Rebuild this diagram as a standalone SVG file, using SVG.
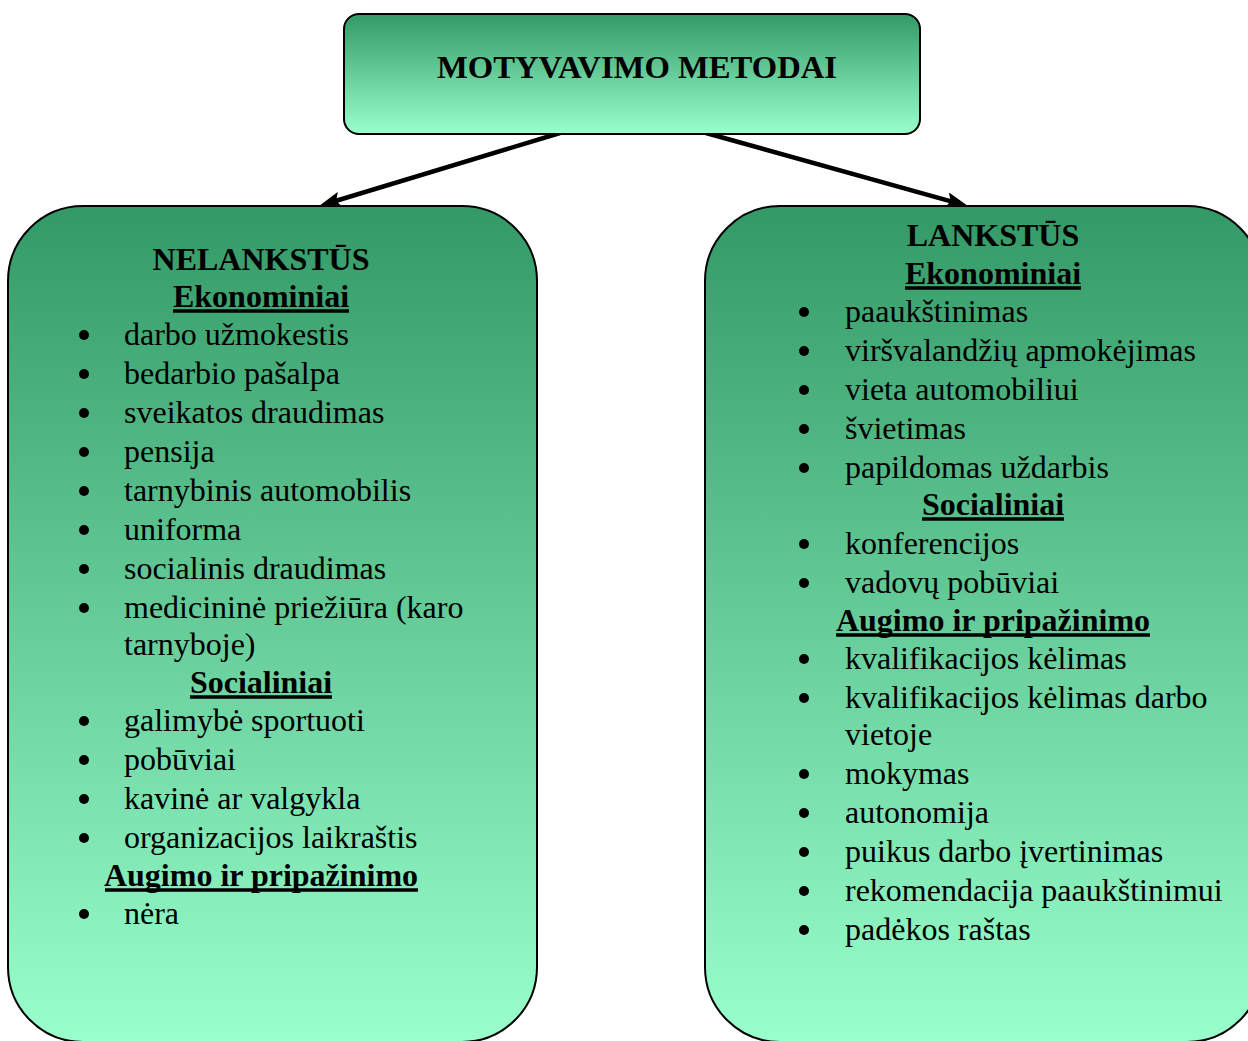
<svg xmlns="http://www.w3.org/2000/svg" width="1248" height="1041" viewBox="0 0 1248 1041">
  <style>
    .box { stroke: #000; stroke-width: 2; }
    .title { font-family: "Liberation Serif", "Times New Roman", serif; font-size: 32px; font-weight: bold; fill: #000; text-anchor: middle; }
    .head { font-family: "Liberation Serif", "Times New Roman", serif; font-size: 32px; font-weight: bold; fill: #000; text-anchor: middle; }
    .sub { font-family: "Liberation Serif", "Times New Roman", serif; font-size: 32px; font-weight: bold; fill: #000; text-anchor: middle; }
    .rule { stroke: #000; stroke-width: 3.5; }
    .item { font-family: "Liberation Serif", "Times New Roman", serif; font-size: 32px; fill: #000; }
    .dot { fill: #000; }
    .conn { stroke: #000; stroke-width: 4.5; fill: none; marker-end: url(#head); }
  </style>
  <defs>
    <linearGradient id="fillTop" x1="0" y1="0" x2="0" y2="1">
      <stop offset="0" stop-color="#339966"/>
      <stop offset="1" stop-color="#99ffcc"/>
    </linearGradient>
    <linearGradient id="fillBig" x1="0" y1="0" x2="0" y2="1">
      <stop offset="0" stop-color="#339966"/>
      <stop offset="1" stop-color="#99ffcc"/>
    </linearGradient>
    <marker id="head" viewBox="0 0 22 16" refX="10" refY="8" markerWidth="22" markerHeight="16" markerUnits="userSpaceOnUse" orient="auto">
      <path d="M0,0 L22,8 L0,16 L4,8 z" fill="#000"/>
    </marker>
  </defs>

  <!-- connectors -->
  <g id="connectors">
    <line class="conn" x1="560" y1="133" x2="330.5" y2="202.5"/>
    <line class="conn" x1="706" y1="133" x2="956.4" y2="202.8"/>
  </g>

  <!-- root node -->
  <g id="node-root">
    <rect class="box" x="344" y="14" width="576" height="120" rx="15" ry="15" fill="url(#fillTop)"/>
    <text class="title" x="637" y="78" textLength="400" lengthAdjust="spacingAndGlyphs">MOTYVAVIMO METODAI</text>
  </g>

  <!-- inflexible methods -->
  <g id="node-nelankstus">
    <rect class="box" x="8" y="206" width="529" height="836" rx="75" ry="75" fill="url(#fillBig)"/>
    <text class="head" x="261" y="270">NELANKSTŪS</text>
    <text class="sub" x="261" y="307">Ekonominiai</text>
    <line class="rule" x1="173" y1="311" x2="349" y2="311"/>
    <g class="dot">
      <circle cx="84" cy="335" r="5"/>
      <circle cx="84" cy="374" r="5"/>
      <circle cx="84" cy="413" r="5"/>
      <circle cx="84" cy="452" r="5"/>
      <circle cx="84" cy="491" r="5"/>
      <circle cx="84" cy="530" r="5"/>
      <circle cx="84" cy="569" r="5"/>
      <circle cx="84" cy="608" r="5"/>
      <circle cx="84" cy="721" r="5"/>
      <circle cx="84" cy="760" r="5"/>
      <circle cx="84" cy="799" r="5"/>
      <circle cx="84" cy="838" r="5"/>
      <circle cx="84" cy="914" r="5"/>
    </g>
    <text class="item" x="124" y="345">darbo užmokestis</text>
    <text class="item" x="124" y="384">bedarbio pašalpa</text>
    <text class="item" x="124" y="423">sveikatos draudimas</text>
    <text class="item" x="124" y="462">pensija</text>
    <text class="item" x="124" y="501">tarnybinis automobilis</text>
    <text class="item" x="124" y="540">uniforma</text>
    <text class="item" x="124" y="579">socialinis draudimas</text>
    <text class="item" x="124" y="618">medicininė priežiūra (karo</text>
    <text class="item" x="124" y="655">tarnyboje)</text>
    <text class="sub" x="261" y="693">Socialiniai</text>
    <line class="rule" x1="190" y1="697" x2="332" y2="697"/>
    <text class="item" x="124" y="731">galimybė sportuoti</text>
    <text class="item" x="124" y="770">pobūviai</text>
    <text class="item" x="124" y="809">kavinė ar valgykla</text>
    <text class="item" x="124" y="848">organizacijos laikraštis</text>
    <text class="sub" x="261" y="886">Augimo ir pripažinimo</text>
    <line class="rule" x1="105" y1="890" x2="418" y2="890"/>
    <text class="item" x="124" y="924">nėra</text>
  </g>

  <!-- flexible methods -->
  <g id="node-lankstus">
    <rect class="box" x="705" y="206" width="557" height="836" rx="75" ry="75" fill="url(#fillBig)"/>
    <text class="head" x="993" y="246">LANKSTŪS</text>
    <text class="sub" x="993" y="284">Ekonominiai</text>
    <line class="rule" x1="905" y1="288" x2="1081" y2="288"/>
    <g class="dot">
      <circle cx="804" cy="312" r="5"/>
      <circle cx="804" cy="351" r="5"/>
      <circle cx="804" cy="390" r="5"/>
      <circle cx="804" cy="429" r="5"/>
      <circle cx="804" cy="468" r="5"/>
      <circle cx="804" cy="544" r="5"/>
      <circle cx="804" cy="583" r="5"/>
      <circle cx="804" cy="659" r="5"/>
      <circle cx="804" cy="698" r="5"/>
      <circle cx="804" cy="774" r="5"/>
      <circle cx="804" cy="813" r="5"/>
      <circle cx="804" cy="852" r="5"/>
      <circle cx="804" cy="891" r="5"/>
      <circle cx="804" cy="930" r="5"/>
    </g>
    <text class="item" x="845" y="322">paaukštinimas</text>
    <text class="item" x="845" y="361">viršvalandžių apmokėjimas</text>
    <text class="item" x="845" y="400">vieta automobiliui</text>
    <text class="item" x="845" y="439">švietimas</text>
    <text class="item" x="845" y="478">papildomas uždarbis</text>
    <text class="sub" x="993" y="515">Socialiniai</text>
    <line class="rule" x1="922" y1="519" x2="1064" y2="519"/>
    <text class="item" x="845" y="554">konferencijos</text>
    <text class="item" x="845" y="593">vadovų pobūviai</text>
    <text class="sub" x="993" y="631">Augimo ir pripažinimo</text>
    <line class="rule" x1="836" y1="635" x2="1150" y2="635"/>
    <text class="item" x="845" y="669">kvalifikacijos kėlimas</text>
    <text class="item" x="845" y="708">kvalifikacijos kėlimas darbo</text>
    <text class="item" x="845" y="745">vietoje</text>
    <text class="item" x="845" y="784">mokymas</text>
    <text class="item" x="845" y="823">autonomija</text>
    <text class="item" x="845" y="862">puikus darbo įvertinimas</text>
    <text class="item" x="845" y="901">rekomendacija paaukštinimui</text>
    <text class="item" x="845" y="940">padėkos raštas</text>
  </g>
</svg>
